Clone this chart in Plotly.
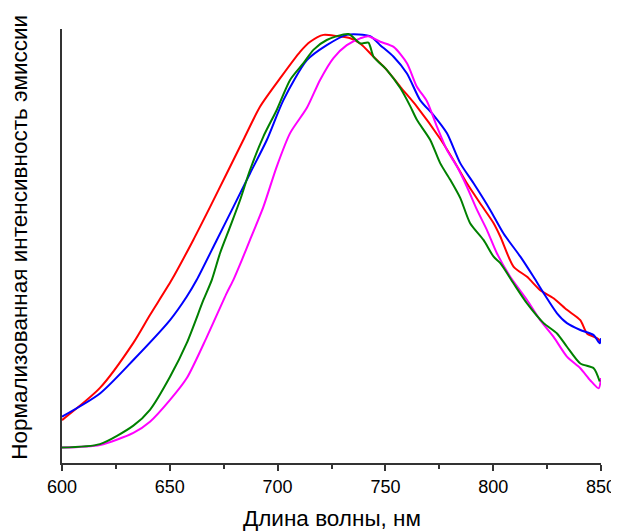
import plotly.graph_objects as go

# Wavelength (nm) and normalized intensity
red_x = [600.0, 617.6, 633.1, 640.8, 650.9, 660.9, 668.7, 676.4, 684.1, 691.9, 701.2, 710.5, 715.1, 721.3,
         727.5, 733.7, 738.3, 744.5, 750.7, 756.9, 764.6, 775.4, 781.6, 787.8, 794.0, 800.2, 803.3, 809.4,
         815.7, 821.8, 828.0, 834.2, 840.4, 843.5, 848.1, 850.0]
red_y = [0.100, 0.175, 0.280, 0.345, 0.427, 0.520, 0.597, 0.675, 0.753, 0.831, 0.897, 0.959, 0.982, 0.998,
         0.995, 0.990, 0.978, 0.947, 0.916, 0.877, 0.831, 0.756, 0.706, 0.652, 0.605, 0.559, 0.528, 0.458,
         0.434, 0.403, 0.384, 0.357, 0.333, 0.302, 0.291, 0.283]

blue_x = [600.0, 617.6, 633.1, 650.1, 657.9, 662.5, 671.8, 679.5, 687.2, 695.0, 702.7, 713.6, 722.8, 732.1,
          742.9, 747.6, 753.8, 760.0, 766.1, 772.3, 778.5, 784.7, 790.9, 798.6, 804.8, 812.6, 818.7, 823.4,
          829.6, 834.2, 840.4, 846.6, 849.4, 850.0]
blue_y = [0.108, 0.162, 0.240, 0.333, 0.388, 0.427, 0.520, 0.597, 0.675, 0.753, 0.846, 0.939, 0.974, 0.998,
          0.995, 0.974, 0.947, 0.908, 0.846, 0.811, 0.769, 0.699, 0.652, 0.590, 0.535, 0.481, 0.434, 0.396,
          0.349, 0.326, 0.310, 0.298, 0.279, 0.291]

green_x = [600.0, 617.6, 633.1, 640.8, 650.1, 657.9, 665.6, 669.5, 673.3, 678.0, 682.6, 687.2, 693.4, 699.6,
           705.8, 712.0, 716.6, 722.8, 732.9, 738.3, 742.1, 744.5, 750.7, 756.9, 761.5, 764.6, 770.8, 775.4,
           780.1, 784.7, 789.3, 795.5, 800.2, 803.3, 809.4, 815.7, 823.4, 829.6, 834.2, 840.4, 846.6, 849.4]
green_y = [0.036, 0.044, 0.087, 0.124, 0.201, 0.280, 0.380, 0.427, 0.489, 0.551, 0.613, 0.683, 0.761, 0.823,
           0.893, 0.932, 0.963, 0.986, 1.000, 0.978, 0.980, 0.947, 0.916, 0.874, 0.832, 0.800, 0.753, 0.699,
           0.660, 0.618, 0.559, 0.520, 0.481, 0.466, 0.419, 0.372, 0.326, 0.302, 0.271, 0.232, 0.221, 0.190]

magenta_x = [600.0, 617.6, 633.1, 640.8, 650.1, 657.9, 667.2, 676.4, 679.5, 683.4, 687.2, 693.4, 699.6, 705.8,
             713.6, 719.7, 725.9, 732.1, 738.3, 742.0, 747.6, 753.8, 760.0, 764.6, 769.2, 773.9, 778.5, 783.2,
             787.8, 792.5, 797.1, 801.7, 807.9, 815.7, 821.8, 828.0, 834.2, 840.4, 845.0, 848.9, 850.0]
magenta_y = [0.036, 0.042, 0.070, 0.096, 0.147, 0.198, 0.294, 0.396, 0.427, 0.473, 0.520, 0.597, 0.691, 0.769,
             0.828, 0.893, 0.944, 0.974, 0.990, 0.995, 0.982, 0.970, 0.932, 0.877, 0.844, 0.784, 0.730, 0.691,
             0.644, 0.590, 0.543, 0.489, 0.434, 0.380, 0.333, 0.294, 0.248, 0.221, 0.193, 0.174, 0.198]

x_ticks = [600, 650, 700, 750, 800, 850]
x_minor = [625, 675, 725, 775, 825]
x_title = "Длина волны, нм"
y_title = "Нормализованная интенсивность эмиссии"

series = [
    (red_x, red_y, "#ff0000"),
    (blue_x, blue_y, "#0000ff"),
    (magenta_x, magenta_y, "#ff00ff"),
    (green_x, green_y, "#008000"),
]

fig = go.Figure()
for xs, ys, col in series:
    fig.add_trace(go.Scatter(x=xs, y=ys, mode="lines",
                             line=dict(color=col, width=2, shape="spline", smoothing=0.7),
                             showlegend=False))

# The page body adds an 8px offset, so the figure is 8px smaller on each side.
fig.update_layout(
    width=611, height=524,
    margin=dict(l=54, r=18, t=21, b=69, autoexpand=False),
    paper_bgcolor="white", plot_bgcolor="white",
    font=dict(family="Arial, Liberation Sans, sans-serif", color="#000000"),
    xaxis=dict(
        range=[600, 850], tickvals=x_ticks, ticktext=[str(t) for t in x_ticks],
        ticks="outside", ticklen=6, tickwidth=1.5, tickcolor="#333333",
        showline=True, linecolor="#333333", linewidth=2,
        showgrid=False, zeroline=False, automargin=False,
        tickfont=dict(size=18),
        minor=dict(tickvals=x_minor, ticks="outside", ticklen=4, tickcolor="#333333", tickwidth=1.5),
    ),
    yaxis=dict(
        range=[0, 1.0117], showticklabels=False, ticks="",
        showline=True, linecolor="#333333", linewidth=2,
        showgrid=False, zeroline=False, automargin=False,
    ),
    annotations=[
        dict(text=x_title, xref="paper", yref="paper", x=0.5, y=-0.128,
             xanchor="center", yanchor="middle", showarrow=False, font=dict(size=22.5)),
        dict(text=y_title, xref="paper", yref="paper", x=-0.078, y=0.521, textangle=-90,
             xanchor="center", yanchor="middle", showarrow=False, font=dict(size=22.5)),
    ],
)

fig.write_html("out.html")
